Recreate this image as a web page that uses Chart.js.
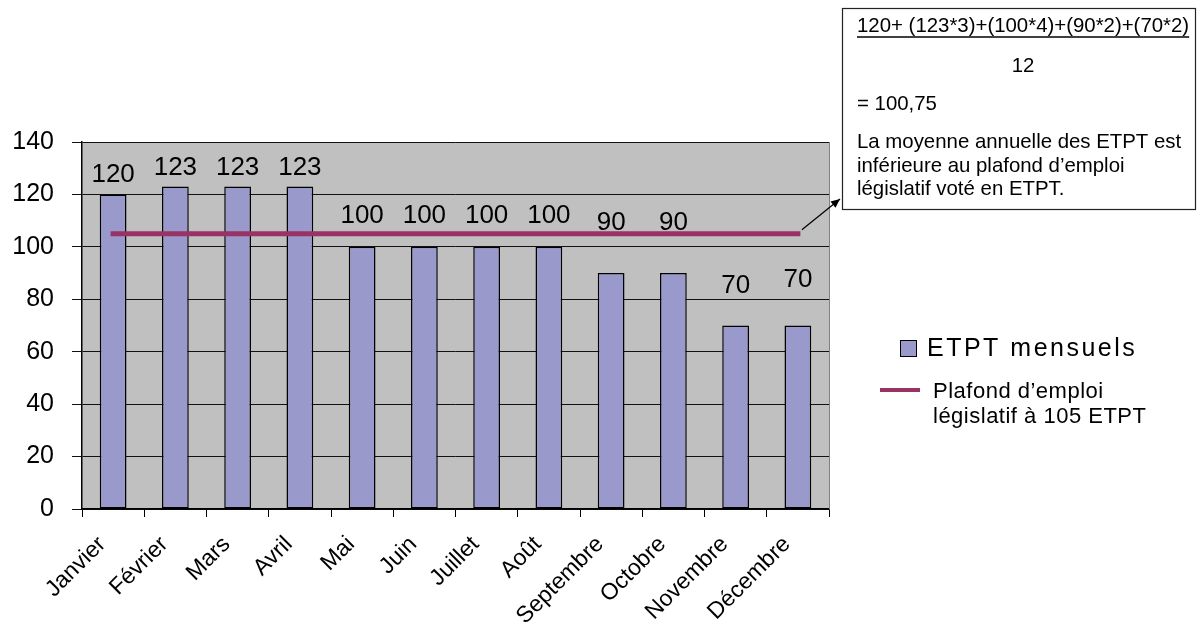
<!DOCTYPE html>
<html>
<head>
<meta charset="utf-8">
<script src="https://cdn.jsdelivr.net/npm/chart.js@4/dist/chart.umd.min.js"></script>
<style>
  html, body { margin: 0; padding: 0; background: #fff; }
  #wrap { position: relative; width: 1197px; height: 628px; }
</style>
</head>
<body>
<div id="wrap"><canvas id="c"></canvas></div>
<script>
// Monthly ETPT figures and the statutory ceiling
const months = ['Janvier', 'Février', 'Mars', 'Avril', 'Mai', 'Juin', 'Juillet', 'Août', 'Septembre', 'Octobre', 'Novembre', 'Décembre'];
const etptMensuels = [120, 123, 123, 123, 100, 100, 100, 100, 90, 90, 70, 70];
const plafond = [105, 105, 105, 105, 105, 105, 105, 105, 105, 105, 105, 105];
const yTicks = [0, 20, 40, 60, 80, 100, 120, 140];

// Vertical gap (px) between each bar top and its value label baseline
const labelGap = [12, 12, 12, 12, 24, 24, 24, 24, 43, 43, 33, 39];

const FONT = '"Liberation Sans", Arial, sans-serif';
const BAR_FILL = '#9999CC';
const LINE_COLOR = '#993366';

const plotPlugin = {
  id: 'plotDecor',
  beforeDraw(chart) {
    const { ctx, chartArea: a } = chart;
    ctx.save();
    ctx.fillStyle = '#C0C0C0';
    ctx.fillRect(a.left, a.top, a.right - a.left, a.bottom - a.top);
    ctx.restore();
  },
  afterDatasetsDraw(chart) {
    const { ctx, chartArea: a } = chart;
    // right edge of the plot area
    ctx.save();
    ctx.strokeStyle = '#808080';
    ctx.lineWidth = 1;
    ctx.beginPath();
    ctx.moveTo(a.right + 0.5, a.top);
    ctx.lineTo(a.right + 0.5, a.bottom);
    ctx.stroke();

    // value labels above the bars
    const meta = chart.getDatasetMeta(1);
    ctx.fillStyle = '#000';
    ctx.font = '26px ' + FONT;
    ctx.textAlign = 'center';
    ctx.textBaseline = 'alphabetic';
    meta.data.forEach((bar, i) => {
      ctx.fillText(String(etptMensuels[i]), bar.x, bar.y - labelGap[i]);
    });
    ctx.restore();
  },
  afterDraw(chart) {
    const { ctx } = chart;
    ctx.save();

    // Legend
    ctx.fillStyle = BAR_FILL;
    ctx.fillRect(900.5, 340.5, 16, 16);
    ctx.strokeStyle = '#000';
    ctx.lineWidth = 1;
    ctx.strokeRect(900.5, 340.5, 16, 16);
    ctx.fillStyle = '#000';
    ctx.textAlign = 'left';
    ctx.textBaseline = 'alphabetic';
    ctx.font = '25px ' + FONT;
    ctx.letterSpacing = '2.5px';
    ctx.fillText('ETPT mensuels', 927, 356);
    ctx.letterSpacing = '0px';

    ctx.strokeStyle = LINE_COLOR;
    ctx.lineWidth = 4;
    ctx.beginPath();
    ctx.moveTo(880, 390);
    ctx.lineTo(920, 390);
    ctx.stroke();
    ctx.font = '22px ' + FONT;
    ctx.letterSpacing = '0.5px';
    ctx.fillText('Plafond d’emploi', 933, 398);
    ctx.fillText('législatif à 105 ETPT', 933, 423);
    ctx.letterSpacing = '0px';

    // Callout box with the annual average computation
    const bx = 842.5, by = 8.5, bw = 353, bh = 201;
    ctx.fillStyle = '#fff';
    ctx.fillRect(bx, by, bw, bh);
    ctx.strokeStyle = '#222';
    ctx.lineWidth = 1.2;
    ctx.strokeRect(bx, by, bw, bh);

    ctx.fillStyle = '#000';
    ctx.font = '20.4px ' + FONT;
    const formula = '120+ (123*3)+(100*4)+(90*2)+(70*2)';
    ctx.fillText(formula, 857, 32);
    const fw = ctx.measureText(formula).width;
    ctx.strokeStyle = '#000';
    ctx.lineWidth = 1.5;
    ctx.beginPath();
    ctx.moveTo(857, 37);
    ctx.lineTo(857 + fw, 37);
    ctx.stroke();
    ctx.textAlign = 'center';
    ctx.fillText('12', 1023, 72);
    ctx.textAlign = 'left';
    ctx.fillText('= 100,75', 857, 110);
    ctx.fillText('La moyenne annuelle des ETPT est', 857, 148);
    ctx.fillText('inférieure au plafond d’emploi', 857, 171.5);
    ctx.fillText('législatif voté en ETPT.', 857, 195);

    // Arrow from the end of the ceiling line to the callout
    const lineMeta = chart.getDatasetMeta(0);
    const last = lineMeta.data[lineMeta.data.length - 1];
    const x0 = last.x + 4, y0 = last.y - 4;
    const x1 = 840, y1 = 199;
    ctx.strokeStyle = '#000';
    ctx.fillStyle = '#000';
    ctx.lineWidth = 1.2;
    ctx.beginPath();
    ctx.moveTo(x0, y0);
    ctx.lineTo(x1, y1);
    ctx.stroke();
    const ang = Math.atan2(y1 - y0, x1 - x0);
    const hl = 9, hw = 4;
    ctx.beginPath();
    ctx.moveTo(x1, y1);
    ctx.lineTo(x1 - hl * Math.cos(ang) + hw * Math.sin(ang), y1 - hl * Math.sin(ang) - hw * Math.cos(ang));
    ctx.lineTo(x1 - hl * Math.cos(ang) - hw * Math.sin(ang), y1 - hl * Math.sin(ang) + hw * Math.cos(ang));
    ctx.closePath();
    ctx.fill();

    ctx.restore();
  }
};

new Chart(document.getElementById('c'), {
  data: {
    labels: months,
    datasets: [
      {
        type: 'line',
        label: 'Plafond d’emploi législatif à 105 ETPT',
        data: plafond,
        borderColor: LINE_COLOR,
        borderWidth: 5,
        borderCapStyle: 'square',
        pointRadius: 0,
        tension: 0,
        order: 0
      },
      {
        type: 'bar',
        label: 'ETPT mensuels',
        data: etptMensuels,
        backgroundColor: BAR_FILL,
        borderColor: '#000',
        borderWidth: 1.5,
        borderSkipped: false,
        barPercentage: 0.43,
        categoryPercentage: 1,
        order: 1
      }
    ]
  },
  plugins: [plotPlugin],
  options: {
    responsive: true,
    maintainAspectRatio: false,
    animation: false,
    layout: { padding: { left: 0, top: 142, right: 368, bottom: 0 } },
    plugins: {
      legend: { display: false },
      tooltip: { enabled: false }
    },
    scales: {
      x: {
        offset: true,
        grid: {
          offset: true,
          drawOnChartArea: false,
          drawTicks: true,
          tickLength: 8,
          color: '#000'
        },
        border: { display: true, color: '#000', width: 1.5 },
        ticks: {
          color: '#000',
          font: { family: FONT, size: 23 },
          maxRotation: 45,
          minRotation: 45,
          padding: 14,
          labelOffset: -11,
          autoSkip: false
        },
        afterFit(scale) { scale.height = 119; }
      },
      y: {
        min: yTicks[0],
        max: yTicks[yTicks.length - 1],
        afterBuildTicks(scale) { scale.ticks = yTicks.map(v => ({ value: v })); },
        grid: {
          color: '#111',
          lineWidth: 1,
          drawTicks: true,
          tickLength: 10
        },
        border: { display: true, color: '#000', width: 1.5 },
        ticks: {
          color: '#000',
          font: { family: FONT, size: 25 },
          padding: 18
        },
        afterFit(scale) { scale.width = 82; }
      }
    }
  }
});
</script>
</body>
</html>
